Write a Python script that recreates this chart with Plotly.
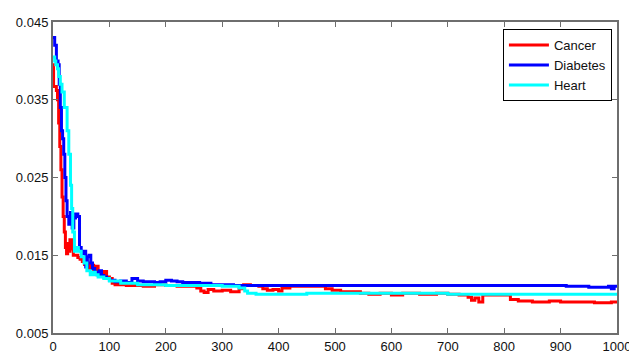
import plotly.graph_objects as go

# ---- data (iteration, value) ----
cancer_x = [0, 1, 6, 8, 10, 12, 14, 16, 18, 20, 22, 24, 26, 28, 30, 33, 36, 40, 44, 48,
            52, 56, 60, 64, 68, 72, 76, 80, 85, 90, 95, 100, 105, 110, 115, 120, 130, 140,
            160, 180, 200, 220, 240, 255, 262, 268, 275, 285, 300, 315, 330, 338, 350, 365,
            372, 380, 390, 400, 406, 420, 460, 483, 495, 510, 545, 560, 580, 600, 620, 650,
            680, 700, 720, 736, 742, 748, 755, 762, 811, 825, 850, 880, 900, 930, 960, 990, 1000]
cancer_y = [0.0395, 0.0367, 0.0362, 0.0350, 0.0320, 0.0290, 0.0260, 0.0225, 0.0200, 0.0180,
            0.0160, 0.0152, 0.0165, 0.0155, 0.0170, 0.0158, 0.0150, 0.0150, 0.0147, 0.0145,
            0.0142, 0.0138, 0.0140, 0.0133, 0.0137, 0.0130, 0.0136, 0.0128, 0.0127, 0.0129,
            0.0122, 0.0120, 0.0114, 0.0112, 0.0116, 0.0112, 0.0111, 0.0111, 0.0110, 0.0112,
            0.0111, 0.0110, 0.0110, 0.0108, 0.0104, 0.0102, 0.0106, 0.0104, 0.0105, 0.0103,
            0.0107, 0.0112, 0.0111, 0.0110, 0.0107, 0.0105, 0.0106, 0.0104, 0.0108, 0.0110,
            0.0110, 0.0107, 0.0105, 0.0103, 0.0101, 0.0100, 0.0101, 0.0099, 0.0101, 0.0100,
            0.0101, 0.0100, 0.0099, 0.0096, 0.0092, 0.0095, 0.0090, 0.0099, 0.0093, 0.0091,
            0.0090, 0.0091, 0.0090, 0.0090, 0.0089, 0.0090, 0.0090]

diabetes_x = [0, 3, 6, 9, 11, 13, 15, 17, 19, 21, 23, 25, 28, 31, 34, 37, 40, 44, 47, 50,
              53, 56, 58, 61, 64, 67, 70, 74, 78, 82, 86, 90, 95, 100, 110, 120, 130, 140,
              150, 160, 170, 180, 190, 200, 210, 220, 230, 240, 260, 280, 300, 320, 340,
              400, 500, 600, 700, 800, 900, 910, 950, 985, 990, 995, 1000]
diabetes_y = [0.0430, 0.0420, 0.0400, 0.0395, 0.0370, 0.0340, 0.0310, 0.0300, 0.0280, 0.0250,
              0.0220, 0.0200, 0.0190, 0.0205, 0.0185, 0.0198, 0.0203, 0.0200, 0.0160, 0.0155,
              0.0152, 0.0155, 0.0135, 0.0148, 0.0150, 0.0140, 0.0133, 0.0128, 0.0125, 0.0130,
              0.0124, 0.0122, 0.0120, 0.0118, 0.0116, 0.0117, 0.0115, 0.0120, 0.0117, 0.0116,
              0.0116, 0.0115, 0.0116, 0.0118, 0.0117, 0.0116, 0.0115, 0.0115, 0.0114, 0.0112,
              0.0112, 0.0111, 0.0111, 0.0111, 0.0111, 0.0111, 0.0111, 0.0111, 0.0111, 0.0110,
              0.0109, 0.0110, 0.0107, 0.0110, 0.0110]

heart_x = [0, 3, 5, 8, 10, 13, 16, 20, 25, 28, 31, 33, 35, 38, 42, 45, 50, 55, 60, 66,
           70, 75, 80, 90, 100, 120, 150, 200, 250, 300, 330, 340, 345, 360, 400, 450,
           500, 600, 700, 800, 900, 1000]
heart_y = [0.0405, 0.0400, 0.0395, 0.0390, 0.0380, 0.0370, 0.0360, 0.0340, 0.0310, 0.0280,
           0.0240, 0.0210, 0.0180, 0.0155, 0.0160, 0.0155, 0.0148, 0.0140, 0.0130, 0.0125,
           0.0128, 0.0125, 0.0122, 0.0120, 0.0117, 0.0114, 0.0112, 0.0111, 0.0111, 0.0110,
           0.0108, 0.0104, 0.0101, 0.0100, 0.0100, 0.0101, 0.0101, 0.0101, 0.0100, 0.0100,
           0.0100, 0.0100]

x_ticks = [0, 100, 200, 300, 400, 500, 600, 700, 800, 900, 1000]
y_ticks = [0.005, 0.015, 0.025, 0.035, 0.045]
y_tick_text = ["0.005", "0.015", "0.025", "0.035", "0.045"]

fig = go.Figure()
fig.add_trace(go.Scatter(x=cancer_x, y=cancer_y, mode="lines", name="Cancer",
                         line=dict(color="#FF0000", width=3, shape="hv")))
fig.add_trace(go.Scatter(x=diabetes_x, y=diabetes_y, mode="lines", name="Diabetes",
                         line=dict(color="#0000FF", width=3, shape="hv")))
fig.add_trace(go.Scatter(x=heart_x, y=heart_y, mode="lines", name="Heart",
                         line=dict(color="#00FFFF", width=3, shape="hv")))

axis_common = dict(showgrid=False, zeroline=False, showline=True, mirror="ticks",
                   linecolor="#6e6e6e", linewidth=2, ticks="inside", ticklen=5,
                   tickcolor="#6e6e6e", tickwidth=1, automargin=False,
                   tickfont=dict(family="Liberation Sans, Arial", size=13, color="#111"))

# the page body adds an 8px offset, so the figure is sized to the visible area
fig.update_layout(
    width=629, height=345,
    margin=dict(l=45, r=20, t=14, b=20),
    paper_bgcolor="white", plot_bgcolor="white",
    xaxis=dict(range=[0, 1000], tickvals=x_ticks, **axis_common),
    yaxis=dict(range=[0.005, 0.045], tickvals=y_ticks, ticktext=y_tick_text, **axis_common),
    legend=dict(x=0.991, y=0.977, xanchor="right", yanchor="top",
                bordercolor="black", borderwidth=1, bgcolor="white",
                font=dict(family="Liberation Sans, Arial", size=13, color="#111"),
                itemwidth=40, tracegroupgap=0),
    showlegend=True,
)

fig.write_html("out.html")
